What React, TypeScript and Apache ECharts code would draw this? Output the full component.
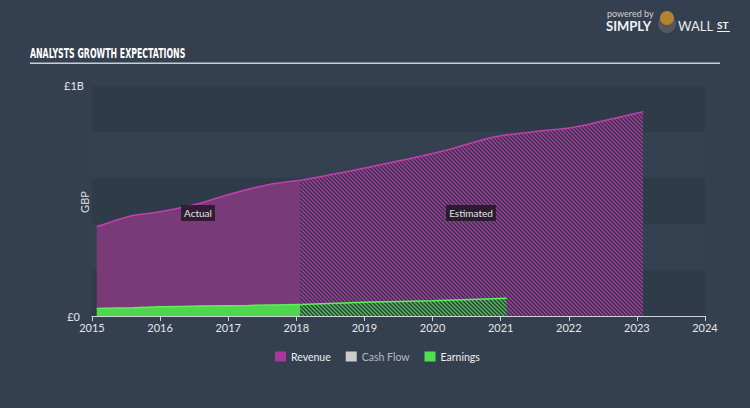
import React, { useEffect, useRef } from 'react';
import * as echarts from 'echarts';

// values in £ billions, x in fractional years
const revenueActualYears = [2015.07, 2015.58, 2016.0, 2016.59, 2016.98, 2017.57, 2018.06];
const revenueActual = [0.388, 0.436, 0.453, 0.49, 0.526, 0.57, 0.59];
const revenueEstYears = [2018.06, 2019.03, 2020.11, 2020.94, 2021.58, 2022.06, 2022.56, 2023.09];
const revenueEst = [0.59, 0.645, 0.714, 0.78, 0.804, 0.82, 0.852, 0.888];
const earningsActualYears = [2015.07, 2015.6, 2016.0, 2016.6, 2017.3, 2018.06];
const earningsActual = [0.033, 0.036, 0.04, 0.043, 0.046, 0.05];
const earningsEstYears = [2018.06, 2019.0, 2020.0, 2021.09];
const earningsEst = [0.05, 0.06, 0.066, 0.077];
const legendNames = ['Revenue', 'Cash Flow', 'Earnings'];
const yTickLabels = ['£0', '£1B'];

const BILLION = 1e9;
const toPairs = (xs: number[], ys: number[]) => xs.map((x, i) => [x, ys[i] * BILLION]);

function makeHatch(line: string, bg: string) {
  const s = 4;
  const c = document.createElement('canvas');
  c.width = s;
  c.height = s;
  const ctx = c.getContext('2d')!;
  ctx.fillStyle = bg;
  ctx.fillRect(0, 0, s, s);
  ctx.strokeStyle = line;
  ctx.lineWidth = 1.3;
  ctx.beginPath();
  ctx.moveTo(-1, -1);
  ctx.lineTo(s + 1, s + 1);
  ctx.moveTo(-1, s - 1);
  ctx.lineTo(1, s + 1);
  ctx.moveTo(s - 1, -1);
  ctx.lineTo(s + 1, 1);
  ctx.stroke();
  return c;
}

export default function App() {
  const ref = useRef<HTMLDivElement>(null);
  useEffect(() => {
    if (!ref.current) return;
    const chart = echarts.init(ref.current, null, { renderer: 'svg' });
    const font = 'Lato, "Open Sans", sans-serif';
    const revLine = '#c23fae';
    const revFill = '#7a3a78';
    const earnLine = '#5cf05c';
    const earnFill = '#4fd64f';
    const revHatch = makeHatch('#ac3aa2', '#2f3847');
    const earnHatch = makeHatch('#4fc74f', '#2f3847');

    chart.setOption({
      animation: false,
      backgroundColor: '#344050',
      textStyle: { fontFamily: font },
      grid: { left: 92, right: 45, top: 86, bottom: 92 },
      xAxis: {
        type: 'value',
        min: 2015,
        max: 2024,
        interval: 1,
        axisLine: { lineStyle: { color: '#cfd4da', width: 1 } },
        axisTick: { show: true, length: 5, lineStyle: { color: '#cfd4da' } },
        axisLabel: { color: '#e6e6e6', fontSize: 11, margin: 6, formatter: (v: number) => String(v) },
        splitLine: { show: false },
      },
      yAxis: {
        type: 'value',
        min: 0,
        max: BILLION,
        interval: BILLION / 5,
        axisLine: { show: false },
        axisTick: { show: false },
        axisLabel: { show: false },
        splitLine: { show: false },
        splitArea: { show: true, areaStyle: { color: ['#2f3b49', '#354151'] } },
      },
      legend: {
        bottom: 41,
        left: 270,
        icon: 'rect',
        itemWidth: 11,
        itemHeight: 10,
        itemGap: 15,
        textStyle: { color: '#eeeeee', fontSize: 10.5, fontFamily: font },
        data: [
          { name: legendNames[0], itemStyle: { color: '#a8389a' } },
          { name: legendNames[1], itemStyle: { color: '#cccccc' }, textStyle: { color: '#b4b9c0' } },
          { name: legendNames[2], itemStyle: { color: '#4fe04f' } },
        ],
      },
      series: [
        {
          name: 'Revenue',
          type: 'line',
          smooth: 0.3,
          symbol: 'none',
          data: toPairs(revenueActualYears, revenueActual),
          lineStyle: { color: revLine, width: 1.5 },
          itemStyle: { color: revLine },
          areaStyle: { color: revFill, opacity: 1 },
          z: 2,
        },
        {
          name: 'Revenue',
          type: 'line',
          smooth: 0.3,
          symbol: 'none',
          data: toPairs(revenueEstYears, revenueEst),
          lineStyle: { color: revLine, width: 1.5 },
          itemStyle: { color: revLine },
          areaStyle: { color: { image: revHatch, repeat: 'repeat' }, opacity: 1 },
          z: 2,
        },
        {
          name: 'Cash Flow',
          type: 'line',
          symbol: 'none',
          data: [],
          itemStyle: { color: '#cccccc' },
        },
        {
          name: 'Earnings',
          type: 'line',
          smooth: 0.3,
          symbol: 'none',
          data: toPairs(earningsActualYears, earningsActual),
          lineStyle: { color: earnLine, width: 1.5 },
          itemStyle: { color: earnLine },
          areaStyle: { color: earnFill, opacity: 1 },
          z: 3,
        },
        {
          name: 'Earnings',
          type: 'line',
          smooth: 0.3,
          symbol: 'none',
          data: toPairs(earningsEstYears, earningsEst),
          lineStyle: { color: earnLine, width: 1.5 },
          itemStyle: { color: earnLine },
          areaStyle: { color: { image: earnHatch, repeat: 'repeat' }, opacity: 1 },
          z: 3,
        },
      ],
      graphic: [
        {
          type: 'text',
          x: 30,
          y: 46,
          scaleX: 0.56,
          style: {
            text: 'ANALYSTS GROWTH EXPECTATIONS',
            fill: '#ffffff',
            font: 'bold 14px "DejaVu Sans", sans-serif',
            verticalAlign: 'top',
          },
        },
        {
          type: 'rect',
          shape: { x: 30, y: 62.5, width: 690, height: 1.5 },
          style: { fill: '#c9ced5' },
        },
        {
          type: 'text',
          x: 64,
          y: 85,
          style: { text: yTickLabels[1], fill: '#e6e6e6', font: '11px ' + font, align: 'left', verticalAlign: 'middle' },
        },
        {
          type: 'text',
          x: 80,
          y: 316,
          style: { text: yTickLabels[0], fill: '#e6e6e6', font: '11px ' + font, align: 'right', verticalAlign: 'middle' },
        },
        {
          type: 'text',
          x: 84,
          y: 202,
          rotation: Math.PI / 2,
          style: { text: 'GBP', fill: '#dcdcdc', font: '11px ' + font, align: 'center', verticalAlign: 'middle' },
        },
        {
          type: 'text',
          x: 198,
          y: 213,
          style: {
            text: 'Actual',
            fill: '#e4e4e4',
            font: '10px ' + font,
            align: 'center',
            verticalAlign: 'middle',
            backgroundColor: 'rgba(35,25,40,0.85)',
            padding: [3, 3],
          },
          z: 10,
        },
        {
          type: 'text',
          x: 471,
          y: 213,
          style: {
            text: 'Estimated',
            fill: '#e4e4e4',
            font: '10px ' + font,
            align: 'center',
            verticalAlign: 'middle',
            backgroundColor: 'rgba(35,25,40,0.9)',
            padding: [3, 3],
          },
          z: 10,
        },
        {
          type: 'text',
          x: 607,
          y: 9,
          style: { text: 'powered by', fill: '#d0d0d0', font: '9px ' + font },
        },
        {
          type: 'text',
          x: 606,
          y: 19,
          style: { text: 'SIMPLY', fill: '#f2f2f2', font: 'bold 13px ' + font },
        },
        {
          type: 'circle',
          shape: { cx: 667, cy: 24, r: 9 },
          style: { fill: '#55575c' },
        },
        {
          type: 'circle',
          shape: { cx: 667, cy: 18, r: 7 },
          style: { fill: '#b5822f' },
        },
        {
          type: 'text',
          x: 678,
          y: 19,
          style: { text: 'WALL', fill: '#e8e8e8', font: '13px ' + font },
        },
        {
          type: 'text',
          x: 717,
          y: 20,
          style: { text: 'ST', fill: '#f2f2f2', font: 'bold 10px ' + font },
        },
        {
          type: 'rect',
          shape: { x: 717, y: 31, width: 13, height: 1 },
          style: { fill: '#f2f2f2' },
        },
      ],
    });
    return () => chart.dispose();
  }, []);
  return <div ref={ref} style={{ width: 750, height: 408, position: 'absolute', left: 0, top: 0 }} />;
}
